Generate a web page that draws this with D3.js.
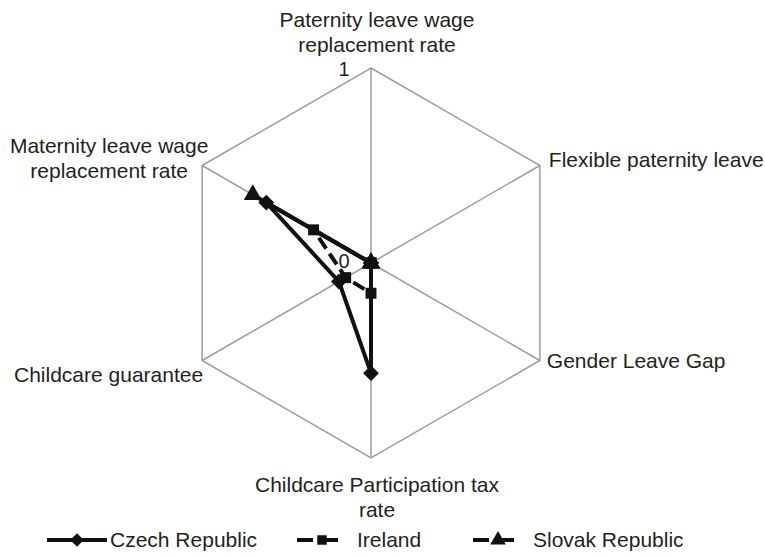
<!DOCTYPE html>
<html>
<head>
<meta charset="utf-8">
<script src="https://cdn.jsdelivr.net/npm/d3@7"></script>
<style>
  body { margin: 0; background: #fff; }
  text { font-family: "Liberation Sans", Arial, sans-serif; fill: #231f20; }
</style>
</head>
<body>
<div id="chart"></div>
<script>
// chart data, axes go clockwise from the top
var axes = ['Paternity leave wage replacement rate', 'Flexible paternity leave', 'Gender Leave Gap',
    'Childcare Participation tax rate', 'Childcare guarantee', 'Maternity leave wage replacement rate']
var axisLines = [['Paternity leave wage', 'replacement rate'], ['Flexible paternity leave'], ['Gender Leave Gap'],
    ['Childcare Participation tax', 'rate'], ['Childcare guarantee'], ['Maternity leave wage', 'replacement rate']]
var countries = ['Czech Republic', 'Ireland', 'Slovak Republic']
var czech = [0, 0, 0, 0.565, 0.19, 0.62]
var ireland = [0, 0, 0, 0.155, 0.15, 0.34]
var slovak = [0, 0, 0, 0, 0, 0.70]
var tickValues = [0, 1]

var width = 765, height = 556;
var cx = 371, cy = 263, radius = 195;

var svg = d3.select("#chart").append("svg")
    .attr("width", width)
    .attr("height", height);

var r = d3.scaleLinear().domain([0, 1]).range([0, radius]);
var angle = d3.scalePoint().domain(axes).range([0, 300]);

function pt(axis, v) {
    var a = (angle(axis) - 90) * Math.PI / 180;
    return [cx + r(v) * Math.cos(a), cy + r(v) * Math.sin(a)];
}

// outer hexagon and spokes
var grid = svg.append("g").attr("stroke", "#9d9d9d").attr("stroke-width", 1.5).attr("fill", "none");
grid.append("path")
    .attr("d", d3.line()(axes.map(a => pt(a, 1))) + "Z");
grid.selectAll("line").data(axes).join("line")
    .attr("x1", cx).attr("y1", cy)
    .attr("x2", a => pt(a, 1)[0]).attr("y2", a => pt(a, 1)[1]);

// tick labels on the vertical axis
svg.selectAll("text.tick").data(tickValues).join("text")
    .attr("class", "tick")
    .attr("x", cx - 27)
    .attr("y", d => cy - r(d) + 5 + (d == 1 ? 3 : 0))
    .attr("text-anchor", "middle")
    .style("font-size", "20px")
    .text(d => d);

// axis labels
var labelPos = [
    { dx: 6, dy: -41, anchor: "middle" },
    { dx: 9, dy: 1, anchor: "start" },
    { dx: 7, dy: 7, anchor: "start" },
    { dx: 6, dy: 34, anchor: "middle" },
    { dx: 1, dy: 21, anchor: "end" },
    { dx: -93, dy: -13, anchor: "middle" }
];
axes.forEach(function (a, i) {
    var p = pt(a, 1);
    var t = svg.append("text")
        .attr("text-anchor", labelPos[i].anchor)
        .style("font-size", "21px");
    axisLines[i].forEach(function (line, j) {
        t.append("tspan")
            .attr("x", p[0] + labelPos[i].dx)
            .attr("y", p[1] + labelPos[i].dy + j * 25)
            .text(line);
    });
});

// series
var series = [
    { name: countries[0], values: czech, dash: null, symbol: "diamond" },
    { name: countries[1], values: ireland, dash: "13,6", symbol: "square" },
    { name: countries[2], values: slovak, dash: "10,6", symbol: "triangle" }
];

function marker(sel, type, big) {
    var k = big ? 1 : 0.75;
    if (type == "diamond") {
        sel.attr("d", d3.symbol(d3.symbolSquare, 125 * k)());
    } else if (type == "square") {
        sel.attr("d", d3.symbol(d3.symbolSquare, 120 * k)());
    } else {
        sel.attr("d", d3.symbol(d3.symbolTriangle, 140 * k)());
    }
}

series.forEach(function (s) {
    var pts = axes.map((a, i) => pt(a, s.values[i]));
    var g = svg.append("g");
    g.append("path")
        .attr("d", d3.line()(pts) + "Z")
        .attr("fill", "none")
        .attr("stroke", "#111")
        .attr("stroke-width", 4)
        .attr("stroke-linejoin", "round")
        .attr("stroke-dasharray", s.dash);
    g.selectAll("path.mk").data(pts).join("path")
        .attr("class", "mk")
        .call(marker, s.symbol, true)
        .attr("fill", "#111")
        .attr("transform", d => "translate(" + d[0] + "," + d[1] + ")" + (s.symbol == "diamond" ? " rotate(45)" : ""));
});

// legend
var legX = [47, 297, 473];
var legend = svg.selectAll("g.legend").data(series).join("g")
    .attr("class", "legend")
    .attr("transform", (d, i) => "translate(" + legX[i] + ",540)");
legend.append("line")
    .attr("x1", 0).attr("x2", (d, i) => i == 0 ? 60 : 48)
    .attr("stroke", "#111").attr("stroke-width", 4)
    .attr("stroke-dasharray", (d, i) => i == 0 ? null : "16,9");
legend.append("path")
    .each(function (d) { marker(d3.select(this), d.symbol, false); })
    .attr("fill", "#111")
    .attr("transform", (d, i) => "translate(" + (i == 0 ? 30 : 25) + ",0)" + (d.symbol == "diamond" ? " rotate(45)" : ""));
legend.append("text")
    .attr("x", (d, i) => i == 0 ? 63 : 60)
    .attr("y", 7)
    .style("font-size", "21px")
    .text(d => d.name);
</script>
</body>
</html>
